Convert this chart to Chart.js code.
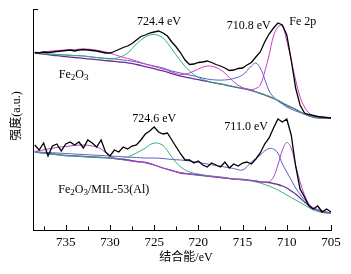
<!DOCTYPE html>
<html>
<head>
<meta charset="utf-8">
<script src="https://cdn.jsdelivr.net/npm/chart.js@4.4.1/dist/chart.umd.min.js"></script>
<style>
  html, body { margin: 0; padding: 0; background: #fff; }
  #wrap { width: 351px; height: 274px; position: relative; }
</style>
</head>
<body>
<div id="wrap"><canvas id="xps"></canvas></div>
<script>
// binding energy grid of the measured spectra (eV)
const rawE = [738.5, 738, 737.5, 737, 736.5, 736, 735.5, 735, 734.5, 734, 733.5, 733, 732.5, 732, 731.5, 731,
	730.5, 730, 729.5, 729, 728.5, 728, 727.5, 727, 726.5, 726, 725.5, 725, 724.5, 724, 723.5, 723,
	722.5, 722, 721.5, 721, 720.5, 720, 719.5, 719, 718.5, 718, 717.5, 717, 716.5, 716, 715.5, 715,
	714.5, 714, 713.5, 713, 712.5, 712, 711.5, 711, 710.5, 710, 709.5, 709, 708.5, 708, 707.5, 707,
	706.5, 706, 705.5, 705];

// Fe2O3 measured
const topRaw = [177.5, 177, 178, 177.5, 178, 178.5, 179, 179.5, 180, 179, 180, 180.5, 180, 179.5, 179, 178,
	177, 177, 178.5, 180.5, 182.5, 184, 186.5, 190, 193.5, 195, 197, 198, 199, 197, 194, 188,
	183, 177, 170, 165.5, 166, 167.5, 168, 169, 167.5, 165.5, 164, 162, 159.5, 160, 161.5, 162,
	165, 167.5, 173, 178, 188, 196, 202, 207, 205, 195, 170, 142, 125, 117, 115.5, 114.5,
	113.5, 113, 112.5, 112];

// Fe2O3/MIL-53(Al) measured
const botRaw = [85, 80, 87, 74, 84, 86, 79, 86, 88, 85, 88, 82, 90, 87, 83, 90,
	78, 74, 80, 78, 83, 81, 84, 85, 90, 96, 99, 103, 98, 96, 97, 90,
	83, 76, 70, 70, 67, 69, 65, 63, 67, 65, 63, 68, 62, 66, 64, 67,
	68, 66, 71, 77, 86, 92, 102, 111, 108, 111, 95, 64, 41, 33, 24, 21,
	24, 18, 21, 18];

// energy grid of the fitted curves (eV)
const fitE = [738.5, 737, 736, 735, 734, 733, 732, 731, 730, 729, 728, 727, 726, 725, 724, 723, 722, 721,
	720, 719, 718, 717, 716, 715, 714, 713.5, 713, 712.5, 712, 711.5, 711, 710.5, 710, 709.5, 709,
	708.5, 708, 707.5, 707, 706, 705];

// Fe2O3 fit
const topBg = [177, 175.4, 174.3, 173.4, 172.5, 171.6, 170.8, 169.9, 169, 168.1, 167.2, 165.5, 163.4, 161.3, 159.1, 156.4, 153.9, 152.1,
	150.3, 148.6, 146.8, 145.1, 143.2, 141.5, 139.5, 138, 136.6, 135, 133.4, 131.5, 129.5, 127, 124.6, 122.5, 120.6,
	118, 116, 114, 112.7, 112, 112];
const topBlue = [177, 176, 175.5, 175, 174.5, 174, 173, 172, 171.5, 170.5, 169.5, 168, 166, 164, 162, 159, 157, 155,
	153, 151, 150, 150, 151.5, 155, 164, 167, 162, 151, 139, 133, 129, 126, 123, 121, 119,
	117.5, 116, 114.5, 113, 112.3, 112];
const topGreen = [177, 176, 175.5, 175, 174.5, 174, 173, 172, 171, 172.5, 177, 186, 193, 195.5, 192, 181, 169, 159,
	152.5, 149, 146.5, 145.5, 143.5, 141.8, 139.8, 138.3, 137, 135.3, 133.8, 131.8, 130, 127.4, 125, 123, 121,
	118.5, 116.2, 114.3, 112.8, 112, 112];
const topPink = [177, 178.5, 179.5, 180, 180.5, 181, 180.5, 179, 177, 174, 171.5, 169, 166, 163.5, 161, 158, 155.5, 157,
	161, 164, 162.5, 157, 148, 142.5, 140.5, 141.5, 145, 158, 175, 194, 203, 204, 189, 170, 150,
	133, 123, 117, 114, 112, 112];

// Fe2O3/MIL-53(Al) fit
const botBg = [78, 76.5, 75.5, 74.5, 74, 73.5, 73, 72.5, 72, 71, 70, 68.5, 67.5, 65, 62, 59.5, 57, 56,
	55, 54, 53, 52, 51, 50.5, 49.5, 49, 48, 47.8, 47.5, 46.5, 45.5, 44, 42, 39, 36,
	32, 28, 24.5, 21.5, 18, 17];
const botBlue = [78, 77.5, 77, 76.5, 76, 75.5, 75, 74.5, 74, 73.5, 73, 72.5, 72, 72, 71.5, 70.5, 70, 69,
	67.5, 66, 64.5, 63, 61.5, 60, 68, 71.5, 75, 79, 81.5, 81, 77, 66, 58, 50, 42,
	36, 30, 26, 22, 19, 17];
const botGreen = [78, 76.5, 75.5, 74.5, 74, 73.5, 73, 72.5, 72, 71, 73, 77, 82, 87, 84.5, 73, 63, 58,
	56, 54.5, 53.5, 52.5, 51, 50, 49, 48, 47, 45.5, 44, 42, 40, 37.5, 35, 32.5, 30,
	27.5, 25, 22.5, 20, 17.5, 17];
const botPink = [78.5, 81, 82.5, 83.5, 84.5, 85, 84, 81, 74, 71, 69.5, 68.5, 67.5, 65, 62, 59.5, 57, 56,
	55, 54, 53, 52, 51, 50.5, 49.5, 49, 48, 48, 48, 53, 65, 80, 87.5, 82, 65,
	48, 35, 26, 22, 19, 17];

// x axis tick marks (eV)
const tickE = [705, 707.5, 710, 712.5, 715, 717.5, 720, 722.5, 725, 727.5, 730, 732.5, 735, 737.5];

const serif = "'Liberation Serif', 'Noto Sans CJK SC', serif";

function pts(xs, ys) {
	return xs.map((x, i) => ({ x: x, y: ys[i] }));
}

function line(data, color, width, tension) {
	return {
		data: data,
		borderColor: color,
		borderWidth: width,
		pointRadius: 0,
		tension: tension,
		fill: false,
	};
}

// text notes: parts are [text, isSubscript]
const notes = [
	{ e: 724.45, v: 208, parts: [["724.4 eV", 0]] },
	{ e: 714.3, v: 204, parts: [["710.8 eV", 0]] },
	{ e: 708.2, v: 208, parts: [["Fe 2p", 0]] },
	{ e: 734.1, v: 155, parts: [["Fe", 0], ["2", 1], ["O", 0], ["3", 1]] },
	{ e: 725.0, v: 111, parts: [["724.6 eV", 0]] },
	{ e: 714.6, v: 103, parts: [["711.0 eV", 0]] },
	{ e: 730.7, v: 40, parts: [["Fe", 0], ["2", 1], ["O", 0], ["3", 1], ["/MIL-53(Al)", 0]] },
];

const decor = {
	id: "decor",
	afterDraw(chart) {
		const { ctx, chartArea, scales } = chart;
		const x = scales.x, y = scales.y;
		ctx.save();
		ctx.strokeStyle = "#000";
		ctx.lineWidth = 1;
		ctx.beginPath();
		tickE.forEach((v) => {
			const px = Math.round(x.getPixelForValue(v)) + 0.5;
			const len = v % 5 === 0 ? 5 : 3.5;
			ctx.moveTo(px, chartArea.bottom);
			ctx.lineTo(px, chartArea.bottom - len);
		});
		const py = Math.round(y.getPixelForValue(y.max)) + 0.5;
		ctx.moveTo(chartArea.left, py);
		ctx.lineTo(chartArea.left + 5, py);
		ctx.stroke();

		ctx.fillStyle = "#000";
		ctx.textBaseline = "middle";
		ctx.textAlign = "left";
		notes.forEach((n) => {
			const cx = x.getPixelForValue(n.e);
			const cy = y.getPixelForValue(n.v);
			let w = 0;
			n.parts.forEach((p) => {
				ctx.font = (p[1] ? "9px " : "12px ") + serif;
				w += ctx.measureText(p[0]).width;
			});
			let px = cx - w / 2;
			n.parts.forEach((p) => {
				ctx.font = (p[1] ? "9px " : "12px ") + serif;
				ctx.fillText(p[0], px, p[1] ? cy + 3 : cy);
				px += ctx.measureText(p[0]).width;
			});
		});

		// axis titles
		ctx.font = "12px " + serif;
		ctx.textAlign = "center";
		ctx.fillText("结合能/eV", 186, 258);
		ctx.translate(17, 116);
		ctx.rotate(-Math.PI / 2);
		ctx.fillText("强度(a.u.)", 0, 0);
		ctx.restore();
	},
};

new Chart(document.getElementById("xps"), {
	type: "line",
	data: {
		datasets: [
			line(pts(rawE, topRaw), "#000000", 1.3, 0),
			line(pts(rawE, botRaw), "#000000", 1.3, 0),
			line(pts(fitE, topPink), "#c93fc4", 1, 0.35),
			line(pts(fitE, topGreen), "#2fb57a", 1, 0.35),
			line(pts(fitE, topBlue), "#5b5fc8", 1, 0.35),
			line(pts(fitE, topBg), "#6a2c9c", 1.3, 0.35),
			line(pts(fitE, botPink), "#b043c8", 1, 0.35),
			line(pts(fitE, botGreen), "#2fb57a", 1, 0.35),
			line(pts(fitE, botBlue), "#5b5fc8", 1, 0.35),
			line(pts(fitE, botBg), "#6a2c9c", 1.3, 0.35),
		],
	},
	options: {
		responsive: true,
		maintainAspectRatio: false,
		devicePixelRatio: 1,
		animation: false,
		layout: { padding: { left: 0, right: 20, top: 9, bottom: 0 } },
		plugins: {
			legend: { display: false },
			tooltip: { enabled: false },
		},
		scales: {
			x: {
				type: "linear",
				reverse: true,
				min: 705,
				max: 738.7,
				grid: { display: false, drawTicks: false },
				border: { display: true, color: "#000", width: 1 },
				ticks: {
					stepSize: 5,
					includeBounds: false,
					autoSkip: false,
					maxRotation: 0,
					padding: 5,
					color: "#000",
					font: { family: serif, size: 13 },
					callback: (v) => (Math.abs(v % 5) < 1e-6 ? String(v) : ""),
				},
				afterFit(scale) {
					scale.height = 44;
				},
			},
			y: {
				min: 0,
				max: 221,
				grid: { display: false, drawTicks: false },
				border: { display: true, color: "#000", width: 1 },
				ticks: { display: false },
				afterFit(scale) {
					scale.width = 33;
				},
			},
		},
	},
	plugins: [decor],
});
</script>
</body>
</html>
